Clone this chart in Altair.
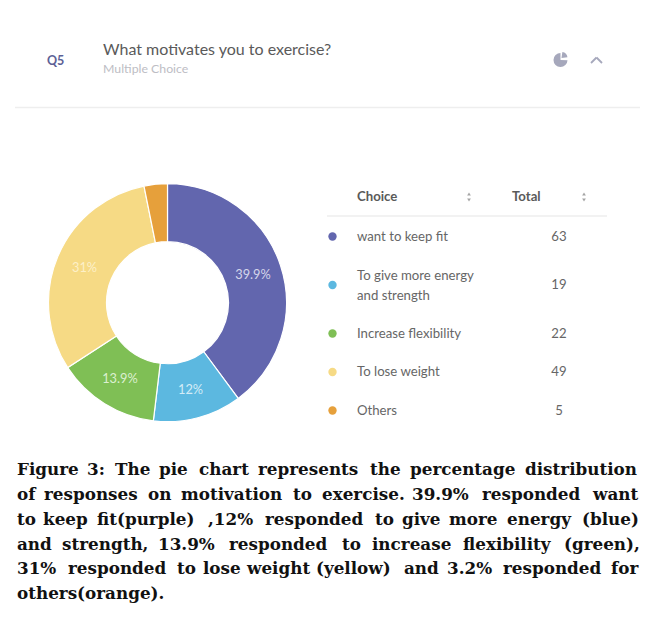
import altair as alt
import pandas as pd

choices = ["want to keep fit", "To give more energy\nand strength", "Increase flexibility", "To lose weight", "Others"]
totals = [63, 19, 22, 49, 5]
pct_labels = ["39.9%", "12%", "13.9%", "31%", ""]
colors = ["#6266ae", "#5cb8e0", "#7fbf55", "#f6da85", "#e6a03b"]
label_colors = ["#d4d5ea", "#d3ecf7", "#dcefd0", "#fdf0c8", "#e6a03b"]
row_y = [236.5, 285, 333.5, 372, 410.5]
name_y = [236.5, 275.5, 333.5, 372, 410.5]

caption = [
    (475, [("Figure", 17), ("3:", 87), ("The", 115), ("pie", 159), ("chart", 199), ("represents", 258), ("the", 370), ("percentage", 410), ("distribution", 525)]),
    (500, [("of", 17), ("responses", 44), ("on", 148), ("motivation", 181), ("to", 293), ("exercise.", 322), ("39.9%", 412), ("responded", 482), ("want", 593)]),
    (525, [("to", 17), ("keep", 43), ("fit(purple)", 97), (",12%", 208), ("responded", 265), ("to", 375), ("give", 402), ("more", 449), ("energy", 507), ("(blue)", 582)]),
    (550, [("and", 17), ("strength,", 62), ("13.9%", 158), ("responded", 229), ("to", 342), ("increase", 372), ("flexibility", 463), ("(green),", 564)]),
    (574, [("31%", 17), ("responded", 68), ("to", 177), ("lose", 203), ("weight", 247), ("(yellow)", 316), ("and", 404), ("3.2%", 447), ("responded", 503), ("for", 611)]),
    (599, [("others(orange).", 17)]),
]

OFF = 8
df = pd.DataFrame({
    "choice": choices, "total": totals, "pct": pct_labels, "idx": list(range(5)),
    "total_label": [str(t) for t in totals],
    "row": [v - OFF for v in row_y],
    "name_row": [v - OFF for v in name_y],
})
one = pd.DataFrame({"a": [0]})
base = alt.Chart(df)
blank = alt.Chart(one)
CX, CY = 167.5 - OFF, 302.7 - OFF


def T(txt, x, y, **kw):
    return blank.mark_text(text=txt, align=kw.pop("align", "left"), baseline=kw.pop("baseline", "middle"), **kw).encode(
        x=alt.value(x - OFF), y=alt.value(y - OFF))


def R(x1, y1, x2, y2, color, w=1):
    return blank.mark_rule(color=color, strokeWidth=w).encode(
        x=alt.value(x1 - OFF), x2=alt.value(x2 - OFF), y=alt.value(y1 - OFF), y2=alt.value(y2 - OFF))


def tri(x, y, shape):
    return blank.mark_point(shape=shape, filled=True, size=14, color="#a5a5a5", opacity=1).encode(
        x=alt.value(x - OFF), y=alt.value(y - OFF))


color = alt.Color("choice:N", scale=alt.Scale(domain=choices, range=colors), legend=None)
theta = alt.Theta("total:Q", stack=True)
order = alt.Order("idx:Q")

donut = base.mark_arc(outerRadius=119, innerRadius=61, stroke="white", strokeWidth=1.2).encode(
    theta=theta, order=order, color=color, x=alt.value(CX), y=alt.value(CY))

arc_text = base.mark_text(radius=90, font="Lato", fontSize=12.8, align="center", baseline="middle").encode(
    theta=theta, order=order, text="pct:N", x=alt.value(CX), y=alt.value(CY),
    fill=alt.Fill("pct:N", scale=alt.Scale(domain=pct_labels, range=label_colors), legend=None))

row_scale = alt.Y("row:Q", scale=alt.Scale(domain=[0, 600], range=[0, 600]), axis=None)
name_scale = alt.Y("name_row:Q", scale=alt.Scale(domain=[0, 600], range=[0, 600]), axis=None)
dots = base.mark_circle(size=70, opacity=1).encode(x=alt.value(332.5 - OFF), y=row_scale, color=color)
names = base.mark_text(align="left", baseline="middle", font="Lato", fontSize=13.2, color="#666666",
                       lineBreak="\n", lineHeight=20).encode(
    x=alt.value(357 - OFF), y=name_scale, text="choice:N")
nums = base.mark_text(align="center", baseline="middle", font="Lato", fontSize=13.2, color="#666666").encode(
    x=alt.value(559 - OFF), y=row_scale, text="total_label:N")

layers = [
    T("Q5", 47, 61, font="Lato", fontSize=12.5, fontWeight="bold", color="#5c6196"),
    T("What motivates you to exercise?", 103, 50, font="Lato", fontSize=16, color="#5a5a5a"),
    T("Multiple Choice", 103, 69, font="Lato", fontSize=12.3, color="#bdbdc4"),
    R(15, 107.5, 640, 107.5, "#eeeeee", 1.5),
    blank.mark_arc(radius=7, theta=1.6, theta2=6.28, color="#a6a8bc").encode(x=alt.value(560.5 - OFF), y=alt.value(60 - OFF)),
    blank.mark_arc(radius=6, theta=0.15, theta2=1.45, color="#a6a8bc").encode(x=alt.value(561.5 - OFF), y=alt.value(58 - OFF)),
    R(591, 63, 596.5, 57.5, "#a6a8bc", 1.8),
    R(596.5, 57.5, 602, 63, "#a6a8bc", 1.8),
    donut, arc_text,
    T("Choice", 357, 197, font="Lato", fontSize=13.2, fontWeight="bold", color="#5a5a5a"),
    T("Total", 512, 197, font="Lato", fontSize=13.2, fontWeight="bold", color="#5a5a5a"),
    tri(469, 194, "triangle-up"), tri(469, 200, "triangle-down"),
    tri(584, 194, "triangle-up"), tri(584, 200, "triangle-down"),
    R(327, 216, 607, 216, "#eeeeee", 1.5),
    dots, names, nums,
]
for y, words in caption:
    for w, x in words:
        layers.append(T(w, x, y - 0.5, baseline="alphabetic", font="DejaVu Serif", fontSize=16.8, fontWeight="bold", color="#111111"))

chart = alt.layer(*layers).resolve_scale(fill="independent").properties(
    width=645, height=600, padding=0, autosize=alt.AutoSizeParams(type="none"), background="white"
).configure_view(stroke=None)

chart.save("out.html", embed_options={"renderer": "svg", "actions": False})
